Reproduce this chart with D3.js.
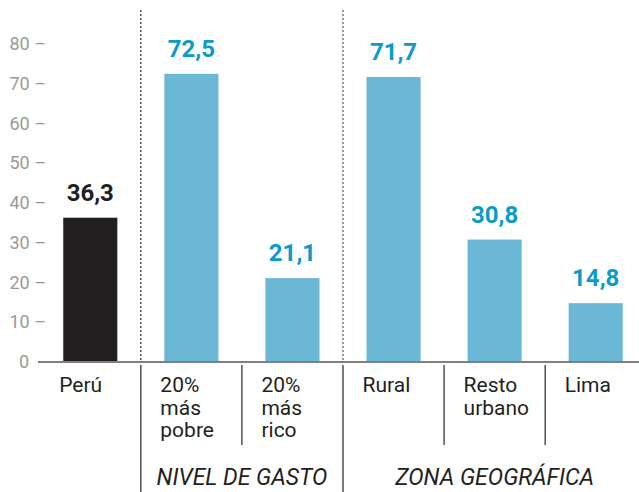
<!DOCTYPE html>
<html>
<head>
<meta charset="utf-8">
<script src="https://cdn.jsdelivr.net/npm/d3@7"></script>
<style>
  body { margin: 0; background: #fff; }
  svg { display: block; font-family: Roboto, "Noto Sans", sans-serif; }
</style>
</head>
<body>
<div id="chart"></div>
<script>
// data
const categories = ["Perú", "20% más pobre", "20% más rico", "Rural", "Resto urbano", "Lima"];
const labelLines = [["Perú"], ["20%", "más", "pobre"], ["20%", "más", "rico"], ["Rural"], ["Resto", "urbano"], ["Lima"]];
const values = [36.3, 72.5, 21.1, 71.7, 30.8, 14.8];
const yTicks = [0, 10, 20, 30, 40, 50, 60, 70, 80];
const groups = [
  { name: "NIVEL DE GASTO", from: 1, to: 2 },
  { name: "ZONA GEOGRÁFICA", from: 3, to: 5 }
];

const width = 639, height = 492;
const baseY = 362;

const svg = d3.select("#chart")
  .append("svg")
  .attr("width", width)
  .attr("height", height);

const x = d3.scaleBand()
  .domain(categories)
  .range([40, 646])
  .paddingInner(0.465)
  .paddingOuter(0.23);

const y = d3.scaleLinear()
  .domain([0, 80])
  .range([baseY, 44]);

// y tick labels (dash is part of the label)
svg.append("g")
  .selectAll("text")
  .data(yTicks)
  .join("text")
  .attr("x", d => d === 0 ? 29 : 46)
  .attr("y", d => y(d) + 6)
  .attr("text-anchor", "end")
  .attr("font-size", 18)
  .attr("fill", "#9a9a9a")
  .text(d => d === 0 ? "0" : d + " –");

// dotted separators above the axis
const sepX = [
  (x(categories[0]) + x.bandwidth() + x(categories[1])) / 2,
  (x(categories[2]) + x.bandwidth() + x(categories[3])) / 2
];
svg.append("line")
  .attr("x1", sepX[0]).attr("x2", sepX[0])
  .attr("y1", 10).attr("y2", baseY)
  .attr("stroke", "#222").attr("stroke-width", 1.2)
  .attr("stroke-dasharray", "2,2");
svg.append("line")
  .attr("x1", sepX[1]).attr("x2", sepX[1])
  .attr("y1", 10).attr("y2", baseY)
  .attr("stroke", "#777").attr("stroke-width", 1.5)
  .attr("stroke-dasharray", "2,2");

// bars
svg.append("g")
  .selectAll("rect")
  .data(values)
  .join("rect")
  .attr("x", (d, i) => x(categories[i]))
  .attr("y", d => y(d))
  .attr("width", x.bandwidth())
  .attr("height", d => baseY - y(d))
  .attr("fill", (d, i) => i === 0 ? "#231f20" : "#6bb7d6");

// value labels
svg.append("g")
  .selectAll("text")
  .data(values)
  .join("text")
  .attr("x", (d, i) => x(categories[i]) + x.bandwidth() / 2)
  .attr("y", d => y(d) - 17)
  .attr("text-anchor", "middle")
  .attr("font-size", 24)
  .attr("font-weight", "bold")
  .attr("fill", (d, i) => i === 0 ? "#231f20" : "#0a9bc9")
  .text(d => d3.format(".1f")(d).replace(".", ","));

// baseline
svg.append("line")
  .attr("x1", 38).attr("x2", width)
  .attr("y1", baseY).attr("y2", baseY)
  .attr("stroke", "#808080").attr("stroke-width", 2);

// solid separators below the axis
svg.append("g")
  .selectAll("line")
  .data(sepX)
  .join("line")
  .attr("x1", d => d).attr("x2", d => d)
  .attr("y1", baseY + 3).attr("y2", height)
  .attr("stroke", "#222").attr("stroke-width", 1.2);

const innerSep = [1, 3, 4].map(i => (x(categories[i]) + x.bandwidth() + x(categories[i + 1])) / 2);
svg.append("g")
  .selectAll("line")
  .data(innerSep)
  .join("line")
  .attr("x1", d => d).attr("x2", d => d)
  .attr("y1", baseY + 3).attr("y2", 445)
  .attr("stroke", "#222").attr("stroke-width", 1.2);

// category labels
const cat = svg.append("g")
  .selectAll("text")
  .data(labelLines)
  .join("text")
  .attr("y", 392)
  .attr("font-size", 21)
  .attr("fill", "#231f20");
cat.selectAll("tspan")
  .data((d, i) => d.map(t => ({ t, x: x(categories[i]) - 4 })))
  .join("tspan")
  .attr("x", d => d.x)
  .attr("dy", (d, j) => j === 0 ? 0 : 22.5)
  .text(d => d.t);

// group labels
svg.append("g")
  .selectAll("text")
  .data(groups)
  .join("text")
  .attr("x", d => (x(categories[d.from]) + x(categories[d.to]) + x.bandwidth()) / 2)
  .attr("y", 485)
  .attr("text-anchor", "middle")
  .attr("font-size", 23)
  .attr("font-style", "italic")
  .attr("fill", "#231f20")
  .text(d => d.name);
</script>
</body>
</html>
